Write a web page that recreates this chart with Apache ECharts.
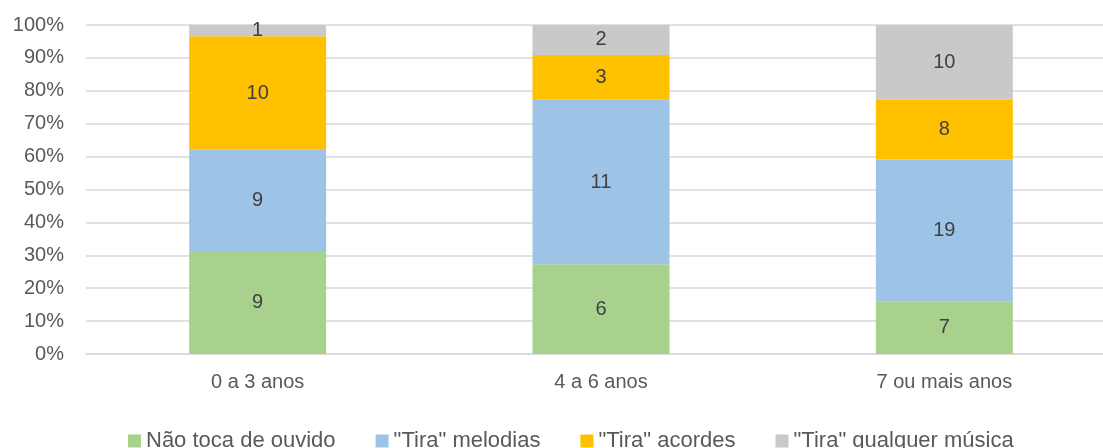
<!DOCTYPE html>
<html>
<head>
<meta charset="utf-8">
<script src="https://cdn.jsdelivr.net/npm/echarts@6/dist/echarts.min.js"></script>
<style>
  html, body { margin: 0; padding: 0; background: #fff; overflow: hidden; }
  #chart { width: 1116px; height: 448px; }
</style>
</head>
<body>
<div id="chart"></div>
<script>
// categories and counts per group
const categories = ['0 a 3 anos', '4 a 6 anos', '7 ou mais anos'];
const naoToca = [9, 6, 7];
const melodias = [9, 11, 19];
const acordes = [10, 3, 8];
const qualquer = [1, 2, 10];

const totals = categories.map((c, i) => naoToca[i] + melodias[i] + acordes[i] + qualquer[i]);
const share = arr => arr.map((v, i) => ({ value: v / totals[i], count: v }));

const font = 'Liberation Sans';
const txt = '#595959';

function mkSeries(name, arr, color) {
  return {
    name: name,
    type: 'bar',
    stack: 'total',
    barWidth: 137,
    itemStyle: { color: color },
    label: {
      show: true,
      position: 'inside',
      color: '#404040',
      fontSize: 20,
      fontFamily: font,
      formatter: p => p.data.count
    },
    data: share(arr)
  };
}

const chart = echarts.init(document.getElementById('chart'));
chart.setOption({
  animation: false,
  grid: { left: 86, top: 25, right: 0, height: 329 },
  legend: {
    top: 425,
    left: 123,
    itemWidth: 13,
    itemHeight: 13,
    itemGap: 40,
    icon: 'rect',
    textStyle: { color: txt, fontSize: 22, fontFamily: font },
    data: ['Não toca de ouvido', '"Tira" melodias', '"Tira" acordes', '"Tira" qualquer música']
  },
  xAxis: {
    type: 'category',
    data: categories,
    axisLine: { lineStyle: { color: '#d9d9d9', width: 1.5 } },
    axisTick: { show: false },
    axisLabel: { color: txt, fontSize: 20, fontFamily: font, margin: 18 }
  },
  yAxis: {
    type: 'value',
    min: 0,
    max: 1,
    interval: 0.1,
    axisLine: { show: false },
    axisTick: { show: false },
    splitLine: { lineStyle: { color: '#d9d9d9', width: 1.5 } },
    axisLabel: {
      color: txt, fontSize: 20, fontFamily: font, margin: 22,
      formatter: v => Math.round(v * 100) + '%'
    }
  },
  series: [
    mkSeries('Não toca de ouvido', naoToca, '#a9d18e'),
    mkSeries('"Tira" melodias', melodias, '#9dc3e6'),
    mkSeries('"Tira" acordes', acordes, '#ffc000'),
    mkSeries('"Tira" qualquer música', qualquer, '#c9c9c9')
  ]
});
</script>
</body>
</html>
